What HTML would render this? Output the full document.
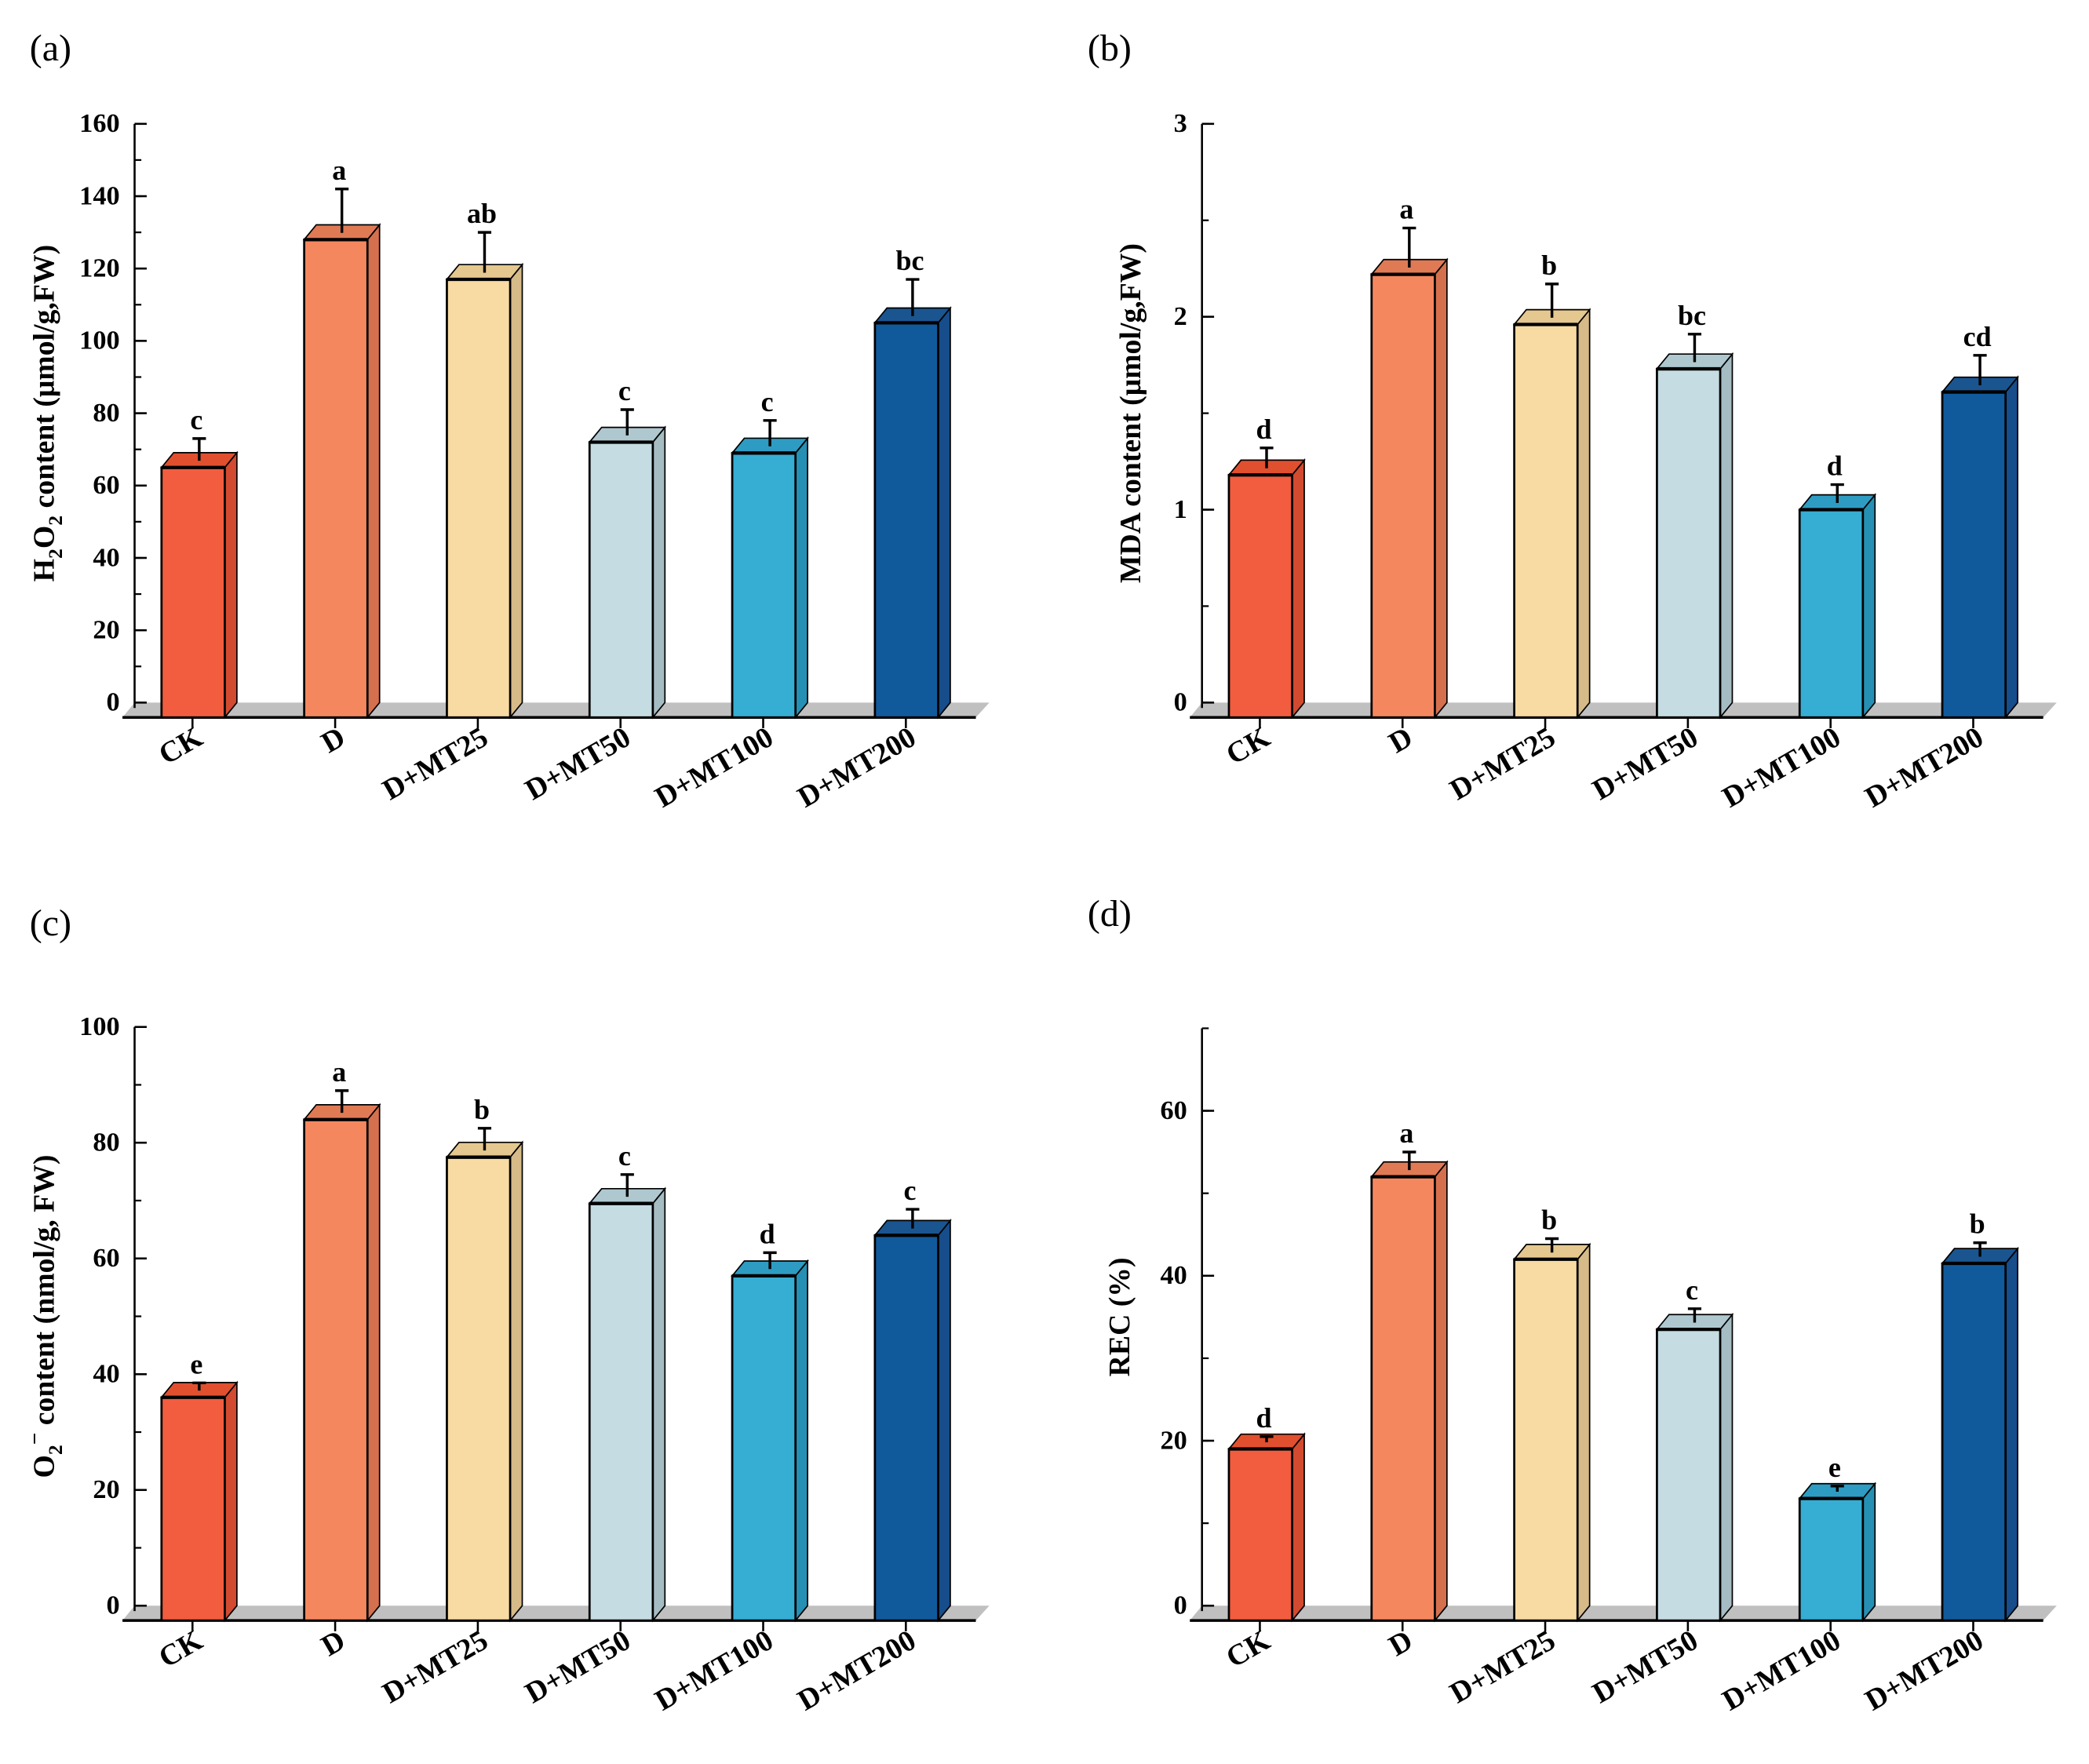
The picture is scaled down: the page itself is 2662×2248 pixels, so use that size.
<!DOCTYPE html>
<html><head><meta charset="utf-8"><style>
html,body{margin:0;padding:0;background:#fff}
svg{display:block}
text{font-family:"Liberation Serif","DejaVu Serif",serif}
</style></head><body>
<svg id="fig" width="2662" height="2248" viewBox="0 0 1552 1310.6" xmlns="http://www.w3.org/2000/svg">
<rect width="1552" height="1311" fill="#fff"/>
</svg>
<script>
const categories = ["CK","D","D+MT25","D+MT50","D+MT100","D+MT200"];
const valuesA = [65,128,117,72,69,105];
const errorsA = [8,14,13,9,9,12];
const lettersA = ["c","a","ab","c","c","bc"];
const valuesB = [1.18,2.22,1.96,1.73,1.0,1.61];
const errorsB = [0.14,0.24,0.21,0.18,0.13,0.19];
const lettersB = ["d","a","b","bc","d","cd"];
const valuesC = [36,84,77.5,69.5,57,64];
const errorsC = [2.5,5,5,5,4,4.5];
const lettersC = ["e","a","b","c","d","c"];
const valuesD = [19,52,42,33.5,13,41.5];
const errorsD = [1.5,3,2.5,2.5,1.5,2.5];
const lettersD = ["d","a","b","c","e","b"];
const ticksA = ["0","20","40","60","80","100","120","140","160"];
const ticksB = ["0","1","2","3"];
const ticksC = ["0","20","40","60","80","100"];
const ticksD = ["0","20","40","60"];

const faces = [["#F25C3F","#D24A30","#E0502F"],["#F5875F","#D5704E","#E07A55"],["#F8DBA2","#D6BA88","#E5C88F"],["#C4DCE2","#A5BCC3","#AFC8CF"],["#36ADD3","#2590B3","#2E9CC2"],["#105A9C","#164D8A","#1A5590"]];
const NS="http://www.w3.org/2000/svg";
const svg=document.getElementById('fig');
function mk(tag,attrs,parent){const e=document.createElementNS(NS,tag);for(const k in attrs)e.setAttribute(k,attrs[k]);(parent||svg).appendChild(e);return e;}

function panel(id,label,lx,ly,ax,top,base,ymax,minorStep,ticks,vals,errs,letters,titleFn,titleX){
  const g=mk('g',{});
  
  
  const y=v=>base-(v/ymax)*(base-top);
  const floor=base+11;
  const pl=mk('text',{x:lx,y:ly,'font-size':28},g);pl.textContent=label;
  
  
  const fl=mk('polygon',{points:`${ax},${base} ${ax+635},${base} ${ax+625},${floor} ${ax-9},${floor}`,fill:'#c0c0c0'},g);
  
  
  const xl=mk('line',{x1:ax-9,y1:floor,x2:ax+625,y2:floor,stroke:'#000','stroke-width':2},g);
  
  
  const yl=mk('line',{x1:ax,y1:top,x2:ax,y2:base+4,stroke:'#000','stroke-width':1.5},g);
  
  
  for(let v=0;v<=ymax+1e-9;v+=minorStep){
    const yy=y(v);
    mk('line',{x1:ax,y1:yy,x2:ax+5,y2:yy,stroke:'#000','stroke-width':1.3},g);
  }
  ticks.forEach(t=>{
    const yy=y(parseFloat(t));
    mk('line',{x1:ax,y1:yy,x2:ax+9,y2:yy,stroke:'#000','stroke-width':1.5},g);
    const tl=mk('text',{x:ax-11,y:yy+6,'font-size':20,'font-weight':'bold','text-anchor':'end'},g);
    tl.textContent=t;
    
    
  });
  vals.forEach((v,i)=>{
    const l=ax+20+i*106, r=l+47, t=y(v), c=faces[i];
    const bg=mk('g',{},g);
    
    
    mk('polygon',{points:`${r},${t} ${r+9},${t-11} ${r+9},${floor-11} ${r},${floor}`,fill:c[1],stroke:'#000','stroke-width':1},bg);
    mk('polygon',{points:`${l},${t} ${l+9},${t-11} ${r+9},${t-11} ${r},${t}`,fill:c[2],stroke:'#000','stroke-width':1},bg);
    mk('rect',{x:l,y:t,width:47,height:floor-t,fill:c[0],stroke:'#000','stroke-width':1.6},bg);
    mk('line',{x1:l,y1:t,x2:r,y2:t,stroke:'#000','stroke-width':2.5},bg);
    const cx=l+28, et=y(v+errs[i]);
    const eb=mk('path',{d:`M${cx},${t-5}V${et}M${cx-5},${et}H${cx+5}`,stroke:'#000','stroke-width':2,fill:'none'},g);
    
    
    const lt=mk('text',{x:cx-2,y:et-7,'font-size':21,'font-weight':'bold','text-anchor':'middle'},g);
    lt.textContent=letters[i];
    
    
    const tc=l+23;
    mk('line',{x1:tc,y1:floor,x2:tc,y2:floor+8,stroke:'#000','stroke-width':1.5},g);
    const xt=mk('text',{x:tc+9,y:floor+19,'font-size':22,'font-weight':'bold','text-anchor':'end',transform:`rotate(-30 ${tc+9} ${floor+19})`},g);
    xt.textContent=categories[i];
    
    
  });
  const ty=(top+base)/2;
  const tt=mk('text',{x:titleX,y:ty,'font-size':22,'font-weight':'bold','text-anchor':'middle',transform:`rotate(-90 ${titleX} ${ty})`},g);
  tt.innerHTML=titleFn;
  
  
}
panel('a','(a)',22,45,100,92,522,160,10,ticksA,valuesA,errorsA,lettersA,'H<tspan font-size="15" dy="6">2</tspan><tspan dy="-6">O</tspan><tspan font-size="15" dy="6">2</tspan><tspan dy="-6"> content  (μmol/g,FW)</tspan>',40);
panel('b','(b)',808,45,893,92,522,3,0.5,ticksB,valuesB,errorsB,lettersB,'MDA content  (μmol/g,FW)',847);
panel('c','(c)',22,695,100,763,1193,100,10,ticksC,valuesC,errorsC,lettersC,'O<tspan font-size="15" dy="6">2</tspan><tspan font-size="16" dy="-15">−</tspan><tspan dy="9"> content (nmol/g, FW)</tspan>',40);
panel('d','(d)',808,688,893,764,1193,70,10,ticksD,valuesD,errorsD,lettersD,'REC (%)',839);
</script>
</body></html>
